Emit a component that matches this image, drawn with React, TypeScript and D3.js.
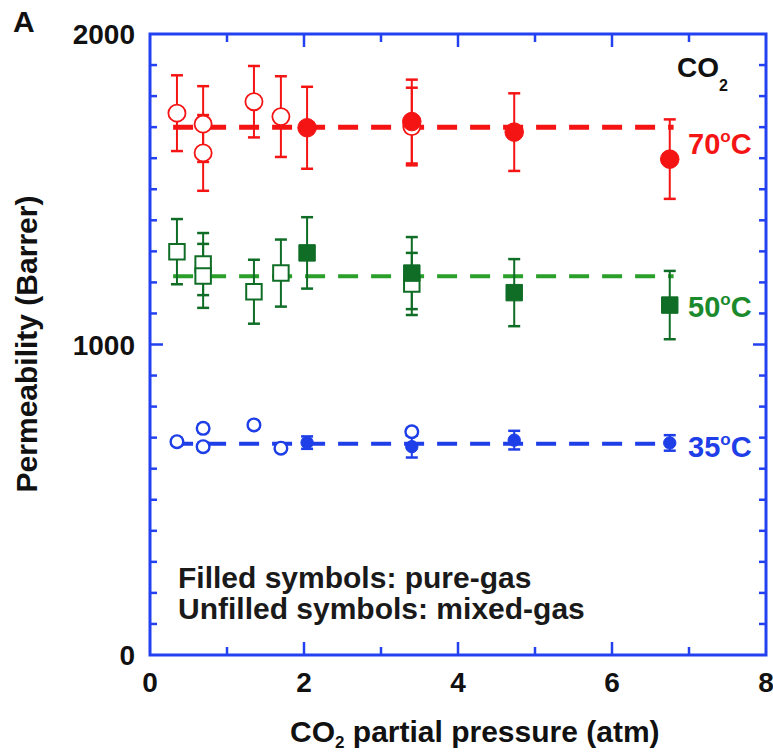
import React, { useEffect, useRef } from "react";
import * as d3 from "d3";

// pressures (atm)
const pureX = [2.04, 3.4, 4.73, 6.75];
const mixedX = [0.35, 0.69, 0.69, 1.35, 1.7, 3.4];

// 70 C
const red70Pure = [1698, 1718, 1684, 1597];
const red70PureErr = [132, 135, 125, 128];
const red70Mixed = [1745, 1710, 1617, 1782, 1734, 1702];
const red70MixedErr = [122, 122, 122, 115, 130, 125];

// 50 C
const green50Pure = [1295, 1230, 1167, 1127];
const green50PureErr = [115, 116, 108, 110];
const green50Mixed = [1299, 1259, 1221, 1170, 1230, 1195];
const green50MixedErr = [105, 100, 103, 103, 108, 100];

// 35 C
const blue35Pure = [684, 671, 692, 683];
const blue35PureErr = [20, 35, 30, 25];
const blue35Mixed = [687, 730, 671, 741, 666, 719];
const blue35MixedErr = [12, 12, 12, 12, 12, 12];

// dashed averages
const fitLevels = [1700, 1220, 680];
const fitRange = [0.3, 6.8];

const xTicks = [0, 2, 4, 6, 8];
const yTicks = [0, 1000, 2000];

const RED = "#f41414";
const GREEN = "#0f6d26";
const GREEN_LINE = "#2a9f2a";
const BLUE = "#1e3ee8";
const AXIS = "#2341f0";
const FONT = "'Liberation Sans', Arial, Helvetica, sans-serif";

const App = () => {
  const ref = useRef<SVGSVGElement>(null);

  useEffect(() => {
    const margin = { top: 34, left: 150, right: 7, bottom: 99 };
    const W = 773;
    const H = 754;
    const svg = d3.select(ref.current).attr("width", W).attr("height", H);
    svg.selectAll("*").remove();

    const x = d3.scaleLinear().domain([0, 8]).range([margin.left, W - margin.right]);
    const y = d3.scaleLinear().domain([0, 2000]).range([H - margin.bottom, margin.top]);

    const g = svg.append("g");

    // dashed fit lines
    const fitColors = [RED, GREEN_LINE, BLUE];
    const fitWidths = [5, 4, 4];
    fitLevels.forEach((lv, i) => {
      g.append("line")
        .attr("x1", x(fitRange[0]))
        .attr("x2", x(fitRange[1]))
        .attr("y1", y(lv))
        .attr("y2", y(lv))
        .attr("stroke", fitColors[i])
        .attr("stroke-width", fitWidths[i])
        .attr("stroke-dasharray", "20 13");
    });

    const errBars = (xs, ys, es, color) => {
      xs.forEach((xv, i) => {
        const cx = x(xv);
        g.append("line")
          .attr("x1", cx).attr("x2", cx)
          .attr("y1", y(ys[i] - es[i])).attr("y2", y(ys[i] + es[i]))
          .attr("stroke", color).attr("stroke-width", 2);
        [ys[i] - es[i], ys[i] + es[i]].forEach((v) => {
          g.append("line")
            .attr("x1", cx - 6).attr("x2", cx + 6)
            .attr("y1", y(v)).attr("y2", y(v))
            .attr("stroke", color).attr("stroke-width", 2.5);
        });
      });
    };

    errBars(mixedX, red70Mixed, red70MixedErr, RED);
    errBars(pureX, red70Pure, red70PureErr, RED);
    errBars(mixedX, green50Mixed, green50MixedErr, GREEN);
    errBars(pureX, green50Pure, green50PureErr, GREEN);
    errBars(mixedX, blue35Mixed, blue35MixedErr, BLUE);
    errBars(pureX, blue35Pure, blue35PureErr, BLUE);

    const symbols = (xs, ys, type, size, color, filled, sw) => {
      g.selectAll(null)
        .data(xs.map((xv, i) => [xv, ys[i]]))
        .join("path")
        .attr("transform", (d) => `translate(${x(d[0])},${y(d[1])})`)
        .attr("d", d3.symbol().type(type).size(size)())
        .attr("fill", filled ? color : "#fff")
        .attr("stroke", color)
        .attr("stroke-width", sw);
    };

    symbols(mixedX, red70Mixed, d3.symbolCircle, 230, RED, false, 1.8);
    symbols(pureX, red70Pure, d3.symbolCircle, 270, RED, true, 1);
    symbols(mixedX, green50Mixed, d3.symbolSquare, 240, GREEN, false, 2);
    symbols(pureX, green50Pure, d3.symbolSquare, 270, GREEN, true, 1);
    symbols(mixedX, blue35Mixed, d3.symbolCircle, 125, BLUE, false, 2.4);
    symbols(pureX, blue35Pure, d3.symbolCircle, 120, BLUE, true, 1);

    // frame + ticks
    const ax = svg.append("g");
    const x0 = x(0), x1 = x(8), y0 = y(0), y1 = y(2000);
    ax.append("rect")
      .attr("x", x0).attr("y", y1)
      .attr("width", x1 - x0).attr("height", y0 - y1)
      .attr("fill", "none").attr("stroke", AXIS).attr("stroke-width", 3);

    d3.range(1, 8).forEach((t) => {
      const len = t % 2 === 0 ? 13 : 8;
      ax.append("line").attr("x1", x(t)).attr("x2", x(t)).attr("y1", y0).attr("y2", y0 - len)
        .attr("stroke", AXIS).attr("stroke-width", 2.5);
      ax.append("line").attr("x1", x(t)).attr("x2", x(t)).attr("y1", y1).attr("y2", y1 + len)
        .attr("stroke", AXIS).attr("stroke-width", 2.5);
    });
    d3.range(100, 2000, 100).forEach((t) => {
      const len = t % 1000 === 0 ? 13 : 7;
      ax.append("line").attr("x1", x0).attr("x2", x0 + len).attr("y1", y(t)).attr("y2", y(t))
        .attr("stroke", AXIS).attr("stroke-width", 2.5);
      ax.append("line").attr("x1", x1).attr("x2", x1 - len).attr("y1", y(t)).attr("y2", y(t))
        .attr("stroke", AXIS).attr("stroke-width", 2.5);
    });

    const txt = svg.append("g").attr("font-family", FONT).attr("font-weight", "bold");

    txt.selectAll(null).data(xTicks).join("text")
      .attr("x", (d) => x(d)).attr("y", y0 + 37)
      .attr("text-anchor", "middle").attr("font-size", 28).attr("fill", "#111")
      .text((d) => d);

    txt.selectAll(null).data(yTicks).join("text")
      .attr("x", x0 - 15).attr("y", (d) => y(d) + 10)
      .attr("text-anchor", "end").attr("font-size", 28).attr("fill", "#111")
      .text((d) => d);

    // x title
    const xt = txt.append("text").attr("x", 290).attr("y", 742).attr("font-size", 30).attr("fill", "#111");
    xt.append("tspan").text("CO");
    xt.append("tspan").attr("dy", 6).attr("font-size", 17).text("2");
    xt.append("tspan").attr("dy", -6).text(" partial pressure (atm)");

    // y title
    txt.append("text")
      .attr("transform", `translate(37,344) rotate(-90)`)
      .attr("text-anchor", "middle").attr("font-size", 30).attr("fill", "#111")
      .text("Permeability (Barrer)");

    // panel letter
    txt.append("text").attr("x", 13).attr("y", 32).attr("font-size", 30).attr("fill", "#111").text("A");

    // gas label
    const co = txt.append("text").attr("x", 677).attr("y", 77).attr("font-size", 28).attr("fill", "#111");
    co.append("tspan").text("CO");
    co.append("tspan").attr("dy", 14).attr("font-size", 16).text("2");

    // temperature labels
    const temps = [
      { t: "70", v: 1646, c: RED },
      { t: "50", v: 1121, c: "#1a8a2c" },
      { t: "35", v: 670, c: BLUE },
    ];
    temps.forEach((d) => {
      const el = txt.append("text").attr("x", 688).attr("y", y(d.v) + 10)
        .attr("font-size", 29).attr("fill", d.c);
      el.append("tspan").text(d.t);
      el.append("tspan").attr("dy", -12).attr("font-size", 17).text("o");
      el.append("tspan").attr("dy", 12).text("C");
    });

    // legend note
    txt.append("text").attr("x", 178).attr("y", 588).attr("font-size", 30).attr("fill", "#1a1a1a")
      .text("Filled symbols: pure-gas");
    txt.append("text").attr("x", 178).attr("y", 619).attr("font-size", 30).attr("fill", "#1a1a1a")
      .text("Unfilled symbols: mixed-gas");
  }, []);

  return <svg ref={ref} style={{ position: "absolute", left: 0, top: 0 }} />;
};

export default App;
